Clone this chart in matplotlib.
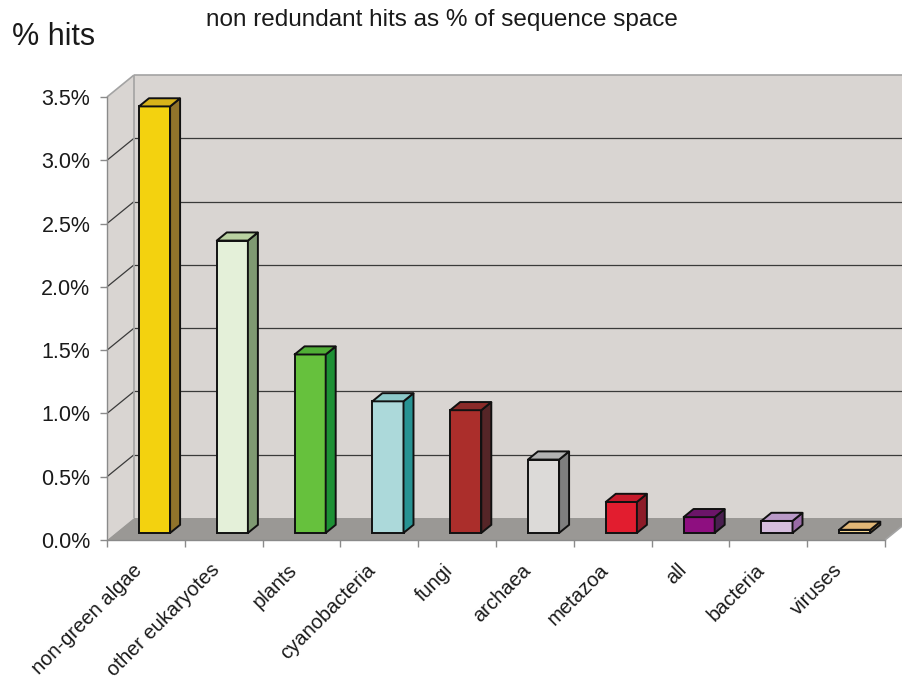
import matplotlib
matplotlib.use("Agg")
import matplotlib.pyplot as plt
import numpy as np

plt.rcParams['font.family'] = ['Liberation Sans', 'DejaVu Sans']

# Data
categories = ['non-green algae', 'other eukaryotes', 'plants', 'cyanobacteria', 'fungi',
              'archaea', 'metazoa', 'all', 'bacteria', 'viruses']
hits_pct = [3.37, 2.31, 1.41, 1.04, 0.97, 0.58, 0.245, 0.125, 0.095, 0.025]
yticks = [0.0, 0.5, 1.0, 1.5, 2.0, 2.5, 3.0, 3.5]

front_colors = ['#f3d20f', '#e4f0d9', '#66c13d', '#acd9da', '#ab2e2b',
                '#dcdad8', '#e21d2f', '#8e0f80', '#d5bddd', '#f4d590']
side_colors = ['#91742b', '#7f9972', '#1d9035', '#279393', '#552527',
               '#7f7f7f', '#8d1c29', '#4a1f50', '#9a6ba7', '#a07c40']
top_colors = ['#d8b31a', '#b9d1a1', '#50ae36', '#8dc9c9', '#8a2b29',
              '#b2b2b2', '#c71b2c', '#6b1569', '#b999c7', '#e0b676']

wall = '#d9d5d2'
floor_col = '#9a9895'
edge_gray = '#a3a3a3'

fig = plt.figure(figsize=(9.03, 6.85), dpi=100)
ax = fig.add_axes([107 / 903, 145 / 685, 778 / 903, 443 / 685])
ax.set_xlim(0, len(categories))
ax.set_ylim(0, 3.5)
ax.patch.set_visible(False)

# oblique depth offset (full depth), in data units
DX = 27 / 77.8
DY = 22 / 126.57


def proj(x, y, d):
    return x + d * DX, y + d * DY


def poly(pts, **kw):
    xs, ys = zip(*pts)
    return ax.fill(xs, ys, clip_on=False, **kw)


def seg(p, q, **kw):
    ax.plot([p[0], q[0]], [p[1], q[1]], clip_on=False, solid_capstyle='butt', **kw)


n = len(categories)
far = n + 2

# walls and floor
poly([proj(0, 0, 1), proj(far, 0, 1), proj(far, 3.5, 1), proj(0, 3.5, 1)], fc=wall, ec='none', zorder=0)
poly([proj(0, 0, 0), proj(0, 0, 1), proj(0, 3.5, 1), proj(0, 3.5, 0)], fc=wall, ec='none', zorder=0)
poly([proj(0, 0, 0), proj(n, 0, 0), proj(n, 0, 1), proj(0, 0, 1)], fc=floor_col, ec='none', zorder=0.5)

# gridlines on left and back walls
for v in yticks[1:-1]:
    seg(proj(0, v, 0), proj(0, v, 1), color='#3a3a3a', lw=0.9, zorder=1)
    seg(proj(0, v, 1), proj(far, v, 1), color='#3a3a3a', lw=0.9, zorder=1)

seg(proj(0, 3.5, 0), proj(0, 3.5, 1), color=edge_gray, lw=1.2, zorder=1)
seg(proj(0, 3.5, 1), proj(far, 3.5, 1), color=edge_gray, lw=1.2, zorder=1)
seg(proj(0, 0, 1), proj(0, 3.5, 1), color=edge_gray, lw=1.2, zorder=1)
seg(proj(n, 0, 0), proj(n, 0, 1), color=edge_gray, lw=1.2, zorder=1)

# 3D bars
bw = 0.40
d0, d1 = 0.32, 0.69
x = np.arange(n) + 0.5
ax.bar(x + d0 * DX, hits_pct, width=bw, bottom=d0 * DY, color=front_colors,
       edgecolor='#111111', linewidth=1.4, zorder=3, clip_on=False)
for i, v in enumerate(hits_pct):
    xl, xr = x[i] - bw / 2, x[i] + bw / 2
    poly([proj(xr, 0, d0), proj(xr, 0, d1), proj(xr, v, d1), proj(xr, v, d0)],
         fc=side_colors[i], ec='#111111', lw=1.4, zorder=3)
    poly([proj(xl, v, d0), proj(xr, v, d0), proj(xr, v, d1), proj(xl, v, d1)],
         fc=top_colors[i], ec='#111111', lw=1.4, zorder=3, joinstyle='round')

# axes
for s in ['top', 'right']:
    ax.spines[s].set_visible(False)
for s in ['left', 'bottom']:
    ax.spines[s].set_color('#8a8a8a')
    ax.spines[s].set_linewidth(1.0)
    ax.spines[s].set_zorder(2)

ax.set_yticks(yticks)
ax.set_yticklabels([f'{t:.1f}%' for t in yticks])
ax.set_xticks(np.arange(n + 1))
ax.set_xticklabels([])
ax.tick_params(direction='out', length=5, width=1.0, color='#8a8a8a', labelsize=15.5,
               labelcolor='#1a1a1a', pad=7)

for i, name in enumerate(categories):
    ax.annotate(name, xy=(x[i], 0), xytext=(-7, -27), textcoords='offset pixels',
                rotation=45, rotation_mode='anchor', ha='right', va='center',
                fontsize=14.5, color='#1a1a1a', annotation_clip=False)

fig.text(442 / 903, 1 - 20 / 685, 'non redundant hits as % of sequence space',
         ha='center', va='center', fontsize=17.5, color='#1a1a1a')
fig.text(12 / 903, 1 - 37 / 685, '% hits', ha='left', va='center', fontsize=22, color='#1a1a1a')

fig.savefig('out.png', dpi=100)
